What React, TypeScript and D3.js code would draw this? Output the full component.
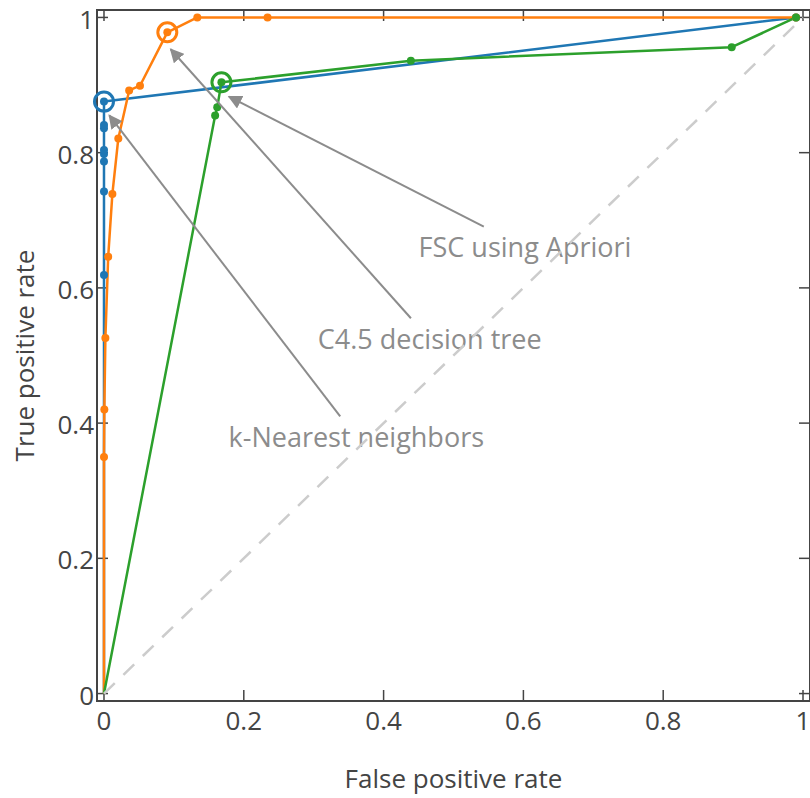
import React from "react";
import * as d3 from "d3";

// ROC curves: false positive rate vs true positive rate
const knnFpr = [0, 0, 0, 0, 0, 0, 0, 0, 0, 0.99];
const knnTpr = [0, 0.619, 0.7425, 0.787, 0.798, 0.804, 0.836, 0.841, 0.8755, 1];

const c45Fpr = [0, 0, 0.0005, 0.002, 0.006, 0.012, 0.0205, 0.036, 0.0515, 0.0906, 0.1335, 0.234, 0.99];
const c45Tpr = [0, 0.35, 0.42, 0.526, 0.646, 0.739, 0.821, 0.892, 0.899, 0.978, 1, 1, 1];

const fscFpr = [0, 0.159, 0.162, 0.168, 0.439, 0.898, 0.99];
const fscTpr = [0, 0.855, 0.867, 0.904, 0.936, 0.956, 1];

const tickValues = [0, 0.2, 0.4, 0.6, 0.8, 1];
const tickLabels = ["0", "0.2", "0.4", "0.6", "0.8", "1"];

// highlighted operating point of each classifier (index into its arrays)
const highlightIndex: Record<string, number> = { knn: 8, c45: 9, fsc: 3 };

// annotation: arrow tip in data units, text centre offset in px from the tip
const annoText = ["FSC using Apriori", "C4.5 decision tree", "k-Nearest neighbors"];
const annoX = [0.1788, 0.0954, 0.0076];
const annoY = [0.883, 0.953, 0.855];
const annoAx = [296, 259, 247];
const annoAy = [151, 290, 322];

const W = 810;
const H = 798;
const L = 97, R = 810, T = 10, B = 701;
const FONT = "'Open Sans', 'Noto Sans', sans-serif";
const AXIS = "#444";

const series = [
  { name: "knn", fpr: knnFpr, tpr: knnTpr, color: "#1f77b4" },
  { name: "c45", fpr: c45Fpr, tpr: c45Tpr, color: "#ff7f0e" },
  { name: "fsc", fpr: fscFpr, tpr: fscTpr, color: "#2ca02c" },
];

export default function App() {
  const x = d3.scaleLinear().domain([-0.01, 1.01]).range([L, R]);
  const y = d3.scaleLinear().domain([-0.011, 1.011]).range([B, T]);
  const line = d3
    .line<[number, number]>()
    .x((d) => x(d[0]))
    .y((d) => y(d[1]));

  const tickLen = 11;
  const annoColor = "#8c8c8c";

  return (
    <svg
      width={W}
      height={H}
      style={{ position: "absolute", left: 0, top: 0, background: "#fff" }}
      fontFamily={FONT}
    >
      <defs>
        <clipPath id="plot-clip">
          <rect x={L} y={T} width={R - L} height={B - T} />
        </clipPath>
        <marker
          id="arrowhead"
          viewBox="0 0 10 10"
          refX="9"
          refY="5"
          markerWidth="14"
          markerHeight="14"
          markerUnits="userSpaceOnUse"
          orient="auto"
        >
          <path d="M0,0 L10,5 L0,10 z" fill={annoColor} />
        </marker>
      </defs>

      {/* frame */}
      <rect x={L} y={T} width={R - L} height={B - T} fill="none" stroke={AXIS} strokeWidth={2} />

      {/* ticks, drawn inward on all four sides */}
      {tickValues.map((v, i) => (
        <g key={"t" + i} stroke={AXIS} strokeWidth={1.5}>
          <line x1={x(v)} x2={x(v)} y1={B} y2={B - tickLen} />
          <line x1={x(v)} x2={x(v)} y1={T} y2={T + tickLen} />
          <line x1={L} x2={L + tickLen} y1={y(v)} y2={y(v)} />
          <line x1={R} x2={R - tickLen} y1={y(v)} y2={y(v)} />
        </g>
      ))}

      {/* tick labels */}
      {tickValues.map((v, i) => (
        <text
          key={"xl" + i}
          x={x(v)}
          y={721}
          dy="0.35em"
          textAnchor="middle"
          fontSize={26}
          fill={AXIS}
        >
          {tickLabels[i]}
        </text>
      ))}
      {tickValues.map((v, i) => (
        <text
          key={"yl" + i}
          x={94}
          y={y(v) + 2}
          dy="0.35em"
          textAnchor="end"
          fontSize={26}
          fill={AXIS}
        >
          {tickLabels[i]}
        </text>
      ))}

      {/* axis titles */}
      <text x={(L + R) / 2} y={779} dy="0.35em" textAnchor="middle" fontSize={26} fill={AXIS}>
        False positive rate
      </text>
      <text
        transform={`translate(25,${(T + B) / 2}) rotate(-90)`}
        dy="0.35em"
        textAnchor="middle"
        fontSize={26}
        fill={AXIS}
      >
        True positive rate
      </text>

      {/* curves */}
      <g clipPath="url(#plot-clip)">
        {series.map((s) => (
          <path
            key={s.name}
            d={line(s.fpr.map((f, i) => [f, s.tpr[i]] as [number, number])) || ""}
            fill="none"
            stroke={s.color}
            strokeWidth={2.5}
            strokeLinejoin="round"
          />
        ))}
      </g>
      {series.map((s) => {
        const h = highlightIndex[s.name];
        return (
          <g key={s.name + "m"} fill={s.color}>
            {/* the origin anchor of each curve carries no marker */}
            {s.fpr.map((f, i) =>
              f === 0 && s.tpr[i] === 0 ? null : (
                <circle key={i} cx={x(f)} cy={y(s.tpr[i])} r={4} />
              )
            )}
            <circle
              cx={x(s.fpr[h])}
              cy={y(s.tpr[h])}
              r={9.5}
              fill="none"
              stroke={s.color}
              strokeWidth={3}
            />
          </g>
        );
      })}

      {/* annotations */}
      {annoText.map((t, i) => {
        const tx = x(annoX[i]);
        const ty = y(annoY[i]);
        const cx = tx + annoAx[i];
        const cy = ty + annoAy[i];
        // arrow starts at the top edge of the text box
        const halfH = 21;
        const k = halfH / annoAy[i];
        const sx = cx - annoAx[i] * k;
        const sy = cy - halfH;
        return (
          <g key={"a" + i}>
            <line
              x1={sx}
              y1={sy}
              x2={tx}
              y2={ty}
              stroke={annoColor}
              strokeWidth={2}
              markerEnd="url(#arrowhead)"
            />
            <text x={cx} y={cy} dy="0.35em" textAnchor="middle" fontSize={27} fill={annoColor}>
              {t}
            </text>
          </g>
        );
      })}

      {/* chance diagonal */}
      <line
        x1={x(0)}
        y1={y(0)}
        x2={x(1)}
        y2={y(1)}
        stroke="#cccccc"
        strokeWidth={2.5}
        strokeDasharray="15,12"
      />
    </svg>
  );
}
